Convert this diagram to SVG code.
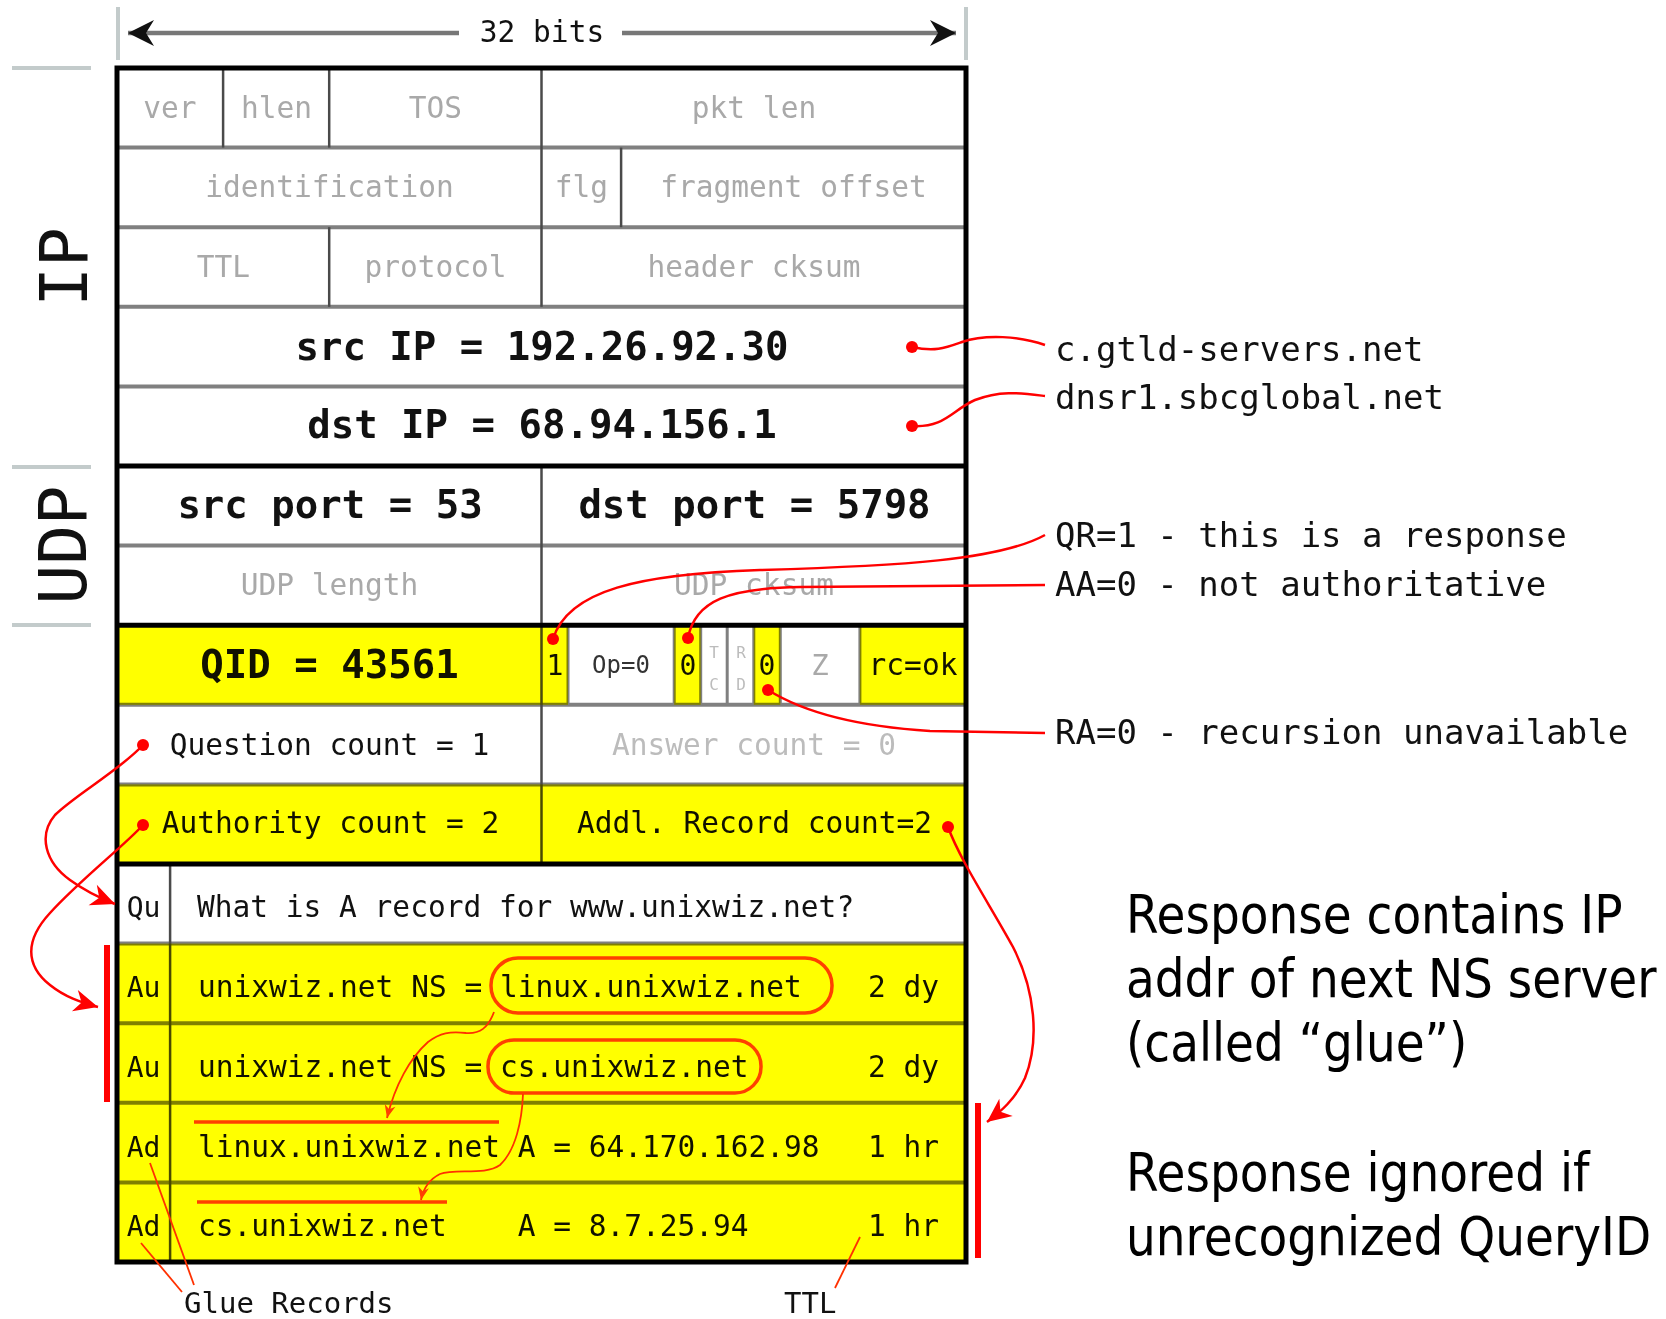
<svg xmlns="http://www.w3.org/2000/svg" width="1666" height="1319" viewBox="0 0 1666 1319">
  <defs>
    <marker id="head-big" viewBox="-26 -12 28 24" refX="0" refY="0" markerWidth="28" markerHeight="24" markerUnits="userSpaceOnUse" orient="auto">
      <path d="M0,0 L-24,-11 L-17,0 L-24,11 Z" fill="#ff0000"/>
    </marker>
    <marker id="head-small" viewBox="-15 -7 17 14" refX="0" refY="0" markerWidth="17" markerHeight="14" markerUnits="userSpaceOnUse" orient="auto">
      <path d="M0,0 L-13,-5.5 L-9,0 L-13,5.5 Z" fill="#ff4000"/>
    </marker>
    <marker id="head-span" viewBox="-28 -15 30 30" refX="0" refY="0" markerWidth="30" markerHeight="30" markerUnits="userSpaceOnUse" orient="auto-start-reverse">
      <path d="M0,0 L-26,-13 L-18,0 L-26,13 Z" fill="#111"/>
    </marker>
  </defs>
  <style>
    .mono { font-family: "DejaVu Sans Mono", "Liberation Mono", monospace; }
    .sans { font-family: "DejaVu Sans", "Liberation Sans", sans-serif; }
    .f29 { font-size: 29.5px; }
    .f34 { font-size: 34px; }
    .big { font-size: 39px; font-weight: bold; }
    .mid { text-anchor: middle; }
    .ink { fill: #111; }
    .grey { fill: #a9a9a9; }
    .faint { fill: #bcbcbc; }
    .rowline { stroke: #808080; stroke-width: 4; }
    .heavy { stroke: #000; stroke-width: 5; }
    .col { stroke: #4a4a4a; stroke-width: 2.5; }
    .flagsep { stroke: #808080; stroke-width: 3; }
    .tick { stroke: #c3cbcb; stroke-width: 4; }
    .hl { fill: #ffff00; }
    .red { stroke: #ff0000; stroke-width: 2.5; fill: none; }
    .dot { fill: #ff0000; }
    .glue { stroke: #ff4000; stroke-width: 3.5; fill: none; }
    .thin { stroke: #ff3000; stroke-width: 1.8; fill: none; }
  </style>

  <rect x="0" y="0" width="1666" height="1319" fill="#ffffff"/>

  <!-- width scale: 32 bits -->
  <g id="bit-scale">
    <line class="tick" x1="118" y1="7" x2="118" y2="60" stroke-width="3"/>
    <line class="tick" x1="966" y1="7" x2="966" y2="60" stroke-width="3"/>
    <line x1="128" y1="33" x2="459" y2="33" stroke="#777" stroke-width="4.5" marker-start="url(#head-span)"/>
    <line x1="622" y1="33" x2="956" y2="33" stroke="#777" stroke-width="4.5" marker-end="url(#head-span)"/>
    <text class="mono f29 ink mid" x="542" y="42">32 bits</text>
  </g>

  <!-- layer brackets on the left -->
  <g id="layer-labels">
    <line class="tick" x1="12" y1="68" x2="91" y2="68"/>
    <line class="tick" x1="12" y1="467" x2="91" y2="467"/>
    <line class="tick" x1="12" y1="625" x2="91" y2="625"/>
    <text class="mono ink" font-size="66" text-anchor="middle" transform="translate(87,267) rotate(-90)">IP</text>
    <text class="mono ink" font-size="66" text-anchor="middle" transform="translate(86,545) rotate(-90)">UDP</text>
  </g>

  <!-- header grid -->
  <g id="grid">
    <g class="rowline">
      <line x1="117" y1="147.6" x2="966" y2="147.6"/>
      <line x1="117" y1="227.2" x2="966" y2="227.2"/>
      <line x1="117" y1="306.8" x2="966" y2="306.8"/>
      <line x1="117" y1="386.4" x2="966" y2="386.4"/>
      <line x1="117" y1="545.6" x2="966" y2="545.6"/>
      <line x1="117" y1="704.8" x2="966" y2="704.8"/>
      <line x1="117" y1="784.4" x2="966" y2="784.4"/>
      <line x1="117" y1="943.6" x2="966" y2="943.6"/>
      <line x1="117" y1="1023.2" x2="966" y2="1023.2"/>
      <line x1="117" y1="1102.8" x2="966" y2="1102.8"/>
      <line x1="117" y1="1182.4" x2="966" y2="1182.4"/>
    </g>
    <g class="col">
      <line x1="223.1" y1="68" x2="223.1" y2="147.6"/>
      <line x1="329.2" y1="68" x2="329.2" y2="147.6"/>
      <line x1="329.2" y1="227.2" x2="329.2" y2="306.8"/>
      <line x1="541.5" y1="68" x2="541.5" y2="306.8"/>
      <line x1="621.1" y1="147.6" x2="621.1" y2="227.2"/>
      <line x1="541.5" y1="466" x2="541.5" y2="864"/>
      <line x1="170.1" y1="864" x2="170.1" y2="1262"/>
    </g>
    <g class="flagsep">
      <line x1="568" y1="625" x2="568" y2="705"/>
      <line x1="674.2" y1="625" x2="674.2" y2="705"/>
      <line x1="700.7" y1="625" x2="700.7" y2="705"/>
      <line x1="727.2" y1="625" x2="727.2" y2="705"/>
      <line x1="753.8" y1="625" x2="753.8" y2="705"/>
      <line x1="780.3" y1="625" x2="780.3" y2="705"/>
      <line x1="859.9" y1="625" x2="859.9" y2="705"/>
    </g>
    <g class="heavy">
      <line x1="117" y1="466" x2="966" y2="466"/>
      <line x1="117" y1="625.2" x2="966" y2="625.2"/>
      <line x1="117" y1="864" x2="966" y2="864"/>
    </g>
    <rect x="117" y="68" width="849" height="1194" fill="none" stroke="#000" stroke-width="5"/>
  </g>

  <!-- IP header fields -->
  <g id="ip-ver"><text class="mono f29 grey mid" x="170" y="118">ver</text></g>
  <g id="ip-hlen"><text class="mono f29 grey mid" x="276.5" y="118">hlen</text></g>
  <g id="ip-tos"><text class="mono f29 grey mid" x="435.5" y="118">TOS</text></g>
  <g id="ip-pktlen"><text class="mono f29 grey mid" x="754" y="118">pkt len</text></g>
  <g id="ip-ident"><text class="mono f29 grey mid" x="329.5" y="197">identification</text></g>
  <g id="ip-flg"><text class="mono f29 grey mid" x="581.5" y="197">flg</text></g>
  <g id="ip-frag"><text class="mono f29 grey mid" x="793.5" y="197">fragment offset</text></g>
  <g id="ip-ttl"><text class="mono f29 grey mid" x="223.5" y="277">TTL</text></g>
  <g id="ip-proto"><text class="mono f29 grey mid" x="435.5" y="277">protocol</text></g>
  <g id="ip-cksum"><text class="mono f29 grey mid" x="754" y="277">header cksum</text></g>
  <g id="ip-src"><text class="mono big ink mid" x="542" y="360">src IP = 192.26.92.30</text></g>
  <g id="ip-dst"><text class="mono big ink mid" x="542" y="438">dst IP = 68.94.156.1</text></g>

  <!-- UDP header fields -->
  <g id="udp-srcport"><text class="mono big ink mid" x="330" y="518">src port = 53</text></g>
  <g id="udp-dstport"><text class="mono big ink mid" x="754.5" y="518">dst port = 5798</text></g>
  <g id="udp-length"><text class="mono f29 grey mid" x="329.5" y="595">UDP length</text></g>
  <g id="udp-cksum"><text class="mono f29 grey mid" x="754" y="595">UDP cksum</text></g>

  <!-- DNS header fields -->
  <g id="dns-qid"><text class="mono big ink mid" x="329.5" y="678">QID = 43561</text></g>
  <g id="flag-qr"><text class="mono ink mid" font-size="28" x="555" y="675">1</text></g>
  <g id="flag-op"><text class="mono mid" fill="#333" font-size="24" x="621" y="673">Op=0</text></g>
  <g id="flag-aa"><text class="mono ink mid" font-size="28" x="688" y="675">0</text></g>
  <g id="flag-tc">
    <text class="mono faint mid" font-size="16" x="714" y="658">T</text>
    <text class="mono faint mid" font-size="16" x="714" y="690">C</text>
  </g>
  <g id="flag-rd">
    <text class="mono faint mid" font-size="16" x="741" y="658">R</text>
    <text class="mono faint mid" font-size="16" x="741" y="690">D</text>
  </g>
  <g id="flag-ra"><text class="mono ink mid" font-size="28" x="767" y="675">0</text></g>
  <g id="flag-z"><text class="mono grey mid" font-size="29" x="820" y="675">Z</text></g>
  <g id="flag-rcode"><text class="mono f29 ink mid" x="913" y="675">rc=ok</text></g>
  <g id="dns-qdcount"><text class="mono f29 ink mid" x="329.5" y="755">Question count = 1</text></g>
  <g id="dns-ancount"><text class="mono f29 faint mid" x="754" y="755">Answer count = 0</text></g>
  <g id="dns-nscount"><text class="mono f29 ink mid" x="330.5" y="833">Authority count = 2</text></g>
  <g id="dns-arcount"><text class="mono f29 ink mid" x="754.5" y="833">Addl. Record count=2</text></g>

  <!-- DNS resource records -->
  <g id="rr-question">
    <text class="mono ink mid" font-size="28" x="143.5" y="917">Qu</text>
    <text class="mono f29 ink" x="197" y="917">What is A record for www.unixwiz.net?</text>
  </g>
  <g id="rr-auth-1">
    <text class="mono ink mid" font-size="28" x="143.5" y="997">Au</text>
    <text class="mono f29 ink" x="198" y="997">unixwiz.net NS = linux.unixwiz.net</text>
    <text class="mono f29 ink" x="868" y="997">2 dy</text>
  </g>
  <g id="rr-auth-2">
    <text class="mono ink mid" font-size="28" x="143.5" y="1077">Au</text>
    <text class="mono f29 ink" x="198" y="1077">unixwiz.net NS = cs.unixwiz.net</text>
    <text class="mono f29 ink" x="868" y="1077">2 dy</text>
  </g>
  <g id="rr-addl-1">
    <text class="mono ink mid" font-size="28" x="143.5" y="1157">Ad</text>
    <text class="mono f29 ink" x="198" y="1157">linux.unixwiz.net A = 64.170.162.98</text>
    <text class="mono f29 ink" x="868" y="1157">1 hr</text>
  </g>
  <g id="rr-addl-2">
    <text class="mono ink mid" font-size="28" x="143.5" y="1236">Ad</text>
    <text class="mono f29 ink" x="198" y="1236">cs.unixwiz.net</text>
    <text class="mono f29 ink" x="517.7" y="1236">A = 8.7.25.94</text>
    <text class="mono f29 ink" x="868" y="1236">1 hr</text>
  </g>

  <!-- yellow highlight, multiplied over the grid so rules turn olive -->
  <g id="highlight" style="mix-blend-mode:multiply">
    <rect class="hl" x="117" y="625.2" width="424.5" height="79.6"/>
    <rect class="hl" x="541.5" y="625.2" width="26.5" height="79.6"/>
    <rect class="hl" x="674.2" y="625.2" width="26.5" height="79.6"/>
    <rect class="hl" x="753.8" y="625.2" width="26.5" height="79.6"/>
    <rect class="hl" x="859.9" y="625.2" width="106.1" height="79.6"/>
    <rect class="hl" x="117" y="784.4" width="849" height="79.6"/>
    <rect class="hl" x="117" y="943.6" width="849" height="318.4"/>
  </g>

  <!-- glue markers inside the records -->
  <g id="glue-marks">
    <rect class="glue" x="491" y="958" width="341" height="55" rx="27"/>
    <rect class="glue" x="488" y="1040" width="273" height="53" rx="26"/>
    <line class="glue" x1="194" y1="1122" x2="499" y2="1122"/>
    <line class="glue" x1="197" y1="1202" x2="447" y2="1202"/>
  </g>

  <!-- side notes -->
  <g id="note-src"><text class="mono f34 ink" x="1055" y="361">c.gtld-servers.net</text></g>
  <g id="note-dst"><text class="mono f34 ink" x="1055" y="409">dnsr1.sbcglobal.net</text></g>
  <g id="note-qr"><text class="mono f34 ink" x="1055" y="547">QR=1 - this is a response</text></g>
  <g id="note-aa"><text class="mono f34 ink" x="1055" y="596">AA=0 - not authoritative</text></g>
  <g id="note-ra"><text class="mono f34 ink" x="1055" y="744">RA=0 - recursion unavailable</text></g>
  <g id="note-glue"><text class="mono ink" font-size="29" x="184" y="1313">Glue Records</text></g>
  <g id="note-ttl"><text class="mono ink" font-size="29" x="784" y="1313">TTL</text></g>

  <g id="summary" transform="translate(1126,0) scale(0.87,1)">
    <text class="sans" font-size="54" fill="#000" x="0" y="933">Response contains IP</text>
    <text class="sans" font-size="54" fill="#000" x="0" y="997">addr of next NS server</text>
    <text class="sans" font-size="54" fill="#000" x="0" y="1061">(called “glue”)</text>
    <text class="sans" font-size="54" fill="#000" x="0" y="1191">Response ignored if</text>
    <text class="sans" font-size="54" fill="#000" x="0" y="1255">unrecognized QueryID</text>
  </g>

  <!-- connectors -->
  <g id="connectors">
    <path class="red" d="M912,347 C935,352 945,348 962,342 C985,334 1020,336 1045,345"/>
    <path class="red" d="M912,426 C945,428 952,410 975,400 C1000,390 1020,393 1045,396"/>
    <path class="red" d="M553,639 C568,590 640,574 760,570 C900,566 1000,560 1045,535"/>
    <path class="red" d="M688,638 C695,600 730,588 800,587 L1045,585"/>
    <path class="red" d="M768,690 C800,710 850,726 930,731 L1045,733"/>
    <path class="red" d="M143,745 C120,770 75,795 55,815 C38,835 45,862 70,880 C85,891 100,898 115,904" marker-end="url(#head-big)"/>
    <path class="red" d="M143,825 C125,845 80,880 50,913 C25,940 25,965 50,985 C65,997 80,1002 98,1007" marker-end="url(#head-big)"/>
    <path class="red" d="M948,827 C960,860 990,905 1013,947 C1035,990 1040,1040 1025,1078 C1015,1100 1000,1112 987,1122" marker-end="url(#head-big)"/>
    <path class="thin" d="M494,1012 C488,1028 480,1034 466,1033 C450,1031 440,1033 428,1042 C410,1058 395,1085 387,1118" marker-end="url(#head-small)"/>
    <path class="thin" d="M523,1094 C522,1120 516,1150 500,1165 C485,1176 455,1168 440,1174 C428,1180 423,1190 421,1200" marker-end="url(#head-small)"/>
    <line class="thin" x1="182" y1="1292" x2="141" y2="1243"/>
    <line class="thin" x1="194" y1="1285" x2="150" y2="1163"/>
    <line class="thin" x1="835" y1="1288" x2="860" y2="1237"/>
    <rect x="104" y="945" width="6" height="157" fill="#ff0000"/>
    <rect x="975" y="1103" width="6" height="155" fill="#ff0000"/>
    <g class="dot">
      <circle cx="912" cy="347" r="6"/>
      <circle cx="912" cy="426" r="6"/>
      <circle cx="553" cy="639" r="6"/>
      <circle cx="688" cy="638" r="6"/>
      <circle cx="768" cy="690" r="6"/>
      <circle cx="143" cy="745" r="6"/>
      <circle cx="143" cy="825" r="6"/>
      <circle cx="948" cy="827" r="6"/>
    </g>
  </g>
</svg>
